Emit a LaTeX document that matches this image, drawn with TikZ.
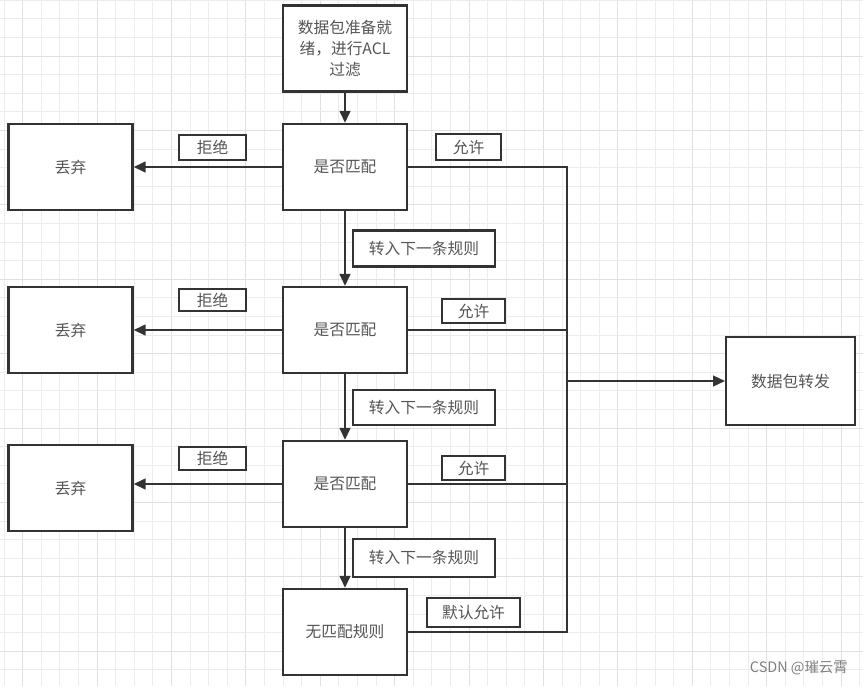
\documentclass[tikz,border=0pt]{standalone}
\usepackage{fontspec}
\setmainfont{Noto Sans CJK SC}
\usetikzlibrary{arrows.meta}
\definecolor{gridc}{HTML}{ECECEC}
\definecolor{gridm}{HTML}{E0E0E0}
\definecolor{linec}{HTML}{333333}
\definecolor{textc}{HTML}{555555}
\tikzset{
  box/.style={draw=linec, line width=1.7pt, fill=white, minimum width=93pt, minimum height=64.5pt, inner sep=2pt, text=textc, font=\fontsize{11.8pt}{15.8pt}\selectfont, align=center},
  lbl/.style={draw=linec, line width=1.6pt, fill=white, inner sep=0pt, text=textc, font=\fontsize{11.8pt}{14pt}\selectfont},
  conn/.style={draw=linec, line width=1.3pt},
  arr/.style={draw=linec, line width=1.7pt, -{Triangle[length=9pt, width=8pt]}},
}
\begin{document}
\begin{tikzpicture}[x=0.75pt, y=-0.75pt]
\useasboundingbox (0,0) rectangle (863,686);
\fill[white] (0,0) rectangle (863,686);
% grid
\foreach \i in {0,...,46} {
  \pgfmathtruncatemacro{\r}{mod(\i,4)}
  \ifnum\r=1
    \draw[gridm, line width=0.7pt] (4+\i*18.6,0) -- (4+\i*18.6,686);
  \else
    \draw[gridc, line width=0.6pt] (4+\i*18.6,0) -- (4+\i*18.6,686);
  \fi
}
\foreach \i in {0,...,36} {
  \pgfmathtruncatemacro{\r}{mod(\i,4)}
  \ifnum\r=3
    \draw[gridm, line width=0.7pt] (0,0.2+\i*18.6) -- (863,0.2+\i*18.6);
  \else
    \draw[gridc, line width=0.6pt] (0,0.2+\i*18.6) -- (863,0.2+\i*18.6);
  \fi
}
% nodes
\node[box] (start) at (345,48.5) {数据包准备就\\绪，进行ACL\\过滤};
\node[box] (m1) at (345,167) {是否匹配};
\node[box] (d1) at (70.5,167) {丢弃};
\node[box] (m2) at (345,330) {是否匹配};
\node[box] (d2) at (70.5,330) {丢弃};
\node[box] (m3) at (345,484) {是否匹配};
\node[box] (d3) at (70.5,488) {丢弃};
\node[box] (nm) at (345,632) {无匹配规则};
\node[box, minimum width=96.5pt, minimum height=66pt] (fw) at (790.5,381) {数据包转发};
% junction coordinates
\coordinate (jt) at (567,168);
\coordinate (jb) at (567,632);
\coordinate (j) at (567,381);
% connectors
\draw[arr] (start) -- (m1);
\draw[arr] (m1) -- (m2);
\draw[arr] (m2) -- (m3);
\draw[arr] (m3) -- (nm);
\draw[arr] (m1.west) -- (d1.east);
\draw[arr] (m2.west) -- (d2.east);
\draw[arr] (m3.west) -- (m3.west -| d3.east);
\draw[conn] (m1.east) -| (jb) -- (nm.east);
\draw[conn] (m2.east) -- (m2.east -| jt);
\draw[conn] (m3.east) -- (m3.east -| jt);
\draw[arr] (j) -- (fw.west);
% labels
\node[lbl, minimum width=50pt, minimum height=18.5pt] (r1) at (212.5,147.5) {拒绝};
\node[lbl, minimum width=50pt, minimum height=17pt] (r2) at (212.5,300) {拒绝};
\node[lbl, minimum width=50pt, minimum height=17pt] (r3) at (212.5,458.5) {拒绝};
\node[lbl, minimum width=48.5pt, minimum height=19pt] (a1) at (468.5,147) {允许};
\node[lbl, minimum width=47pt, minimum height=18pt] (a2) at (473.5,311) {允许};
\node[lbl, minimum width=47pt, minimum height=18pt] (a3) at (473.5,468) {允许};
\node[lbl, minimum width=106pt, minimum height=27pt] (z1) at (424,248.5) {转入下一条规则};
\node[lbl, minimum width=106pt, minimum height=26pt] (z2) at (424,407.5) {转入下一条规则};
\node[lbl, minimum width=106pt, minimum height=28pt] (z3) at (424,558) {转入下一条规则};
\node[lbl, minimum width=70pt, minimum height=22pt] (df) at (473.5,612.5) {默认允许};
% watermark
\node[text=textc!75, font=\fontsize{10.8pt}{12pt}\selectfont, anchor=east, inner sep=0pt] (wm) at (848,668) {CSDN @璀云霄};
\end{tikzpicture}
\end{document}
